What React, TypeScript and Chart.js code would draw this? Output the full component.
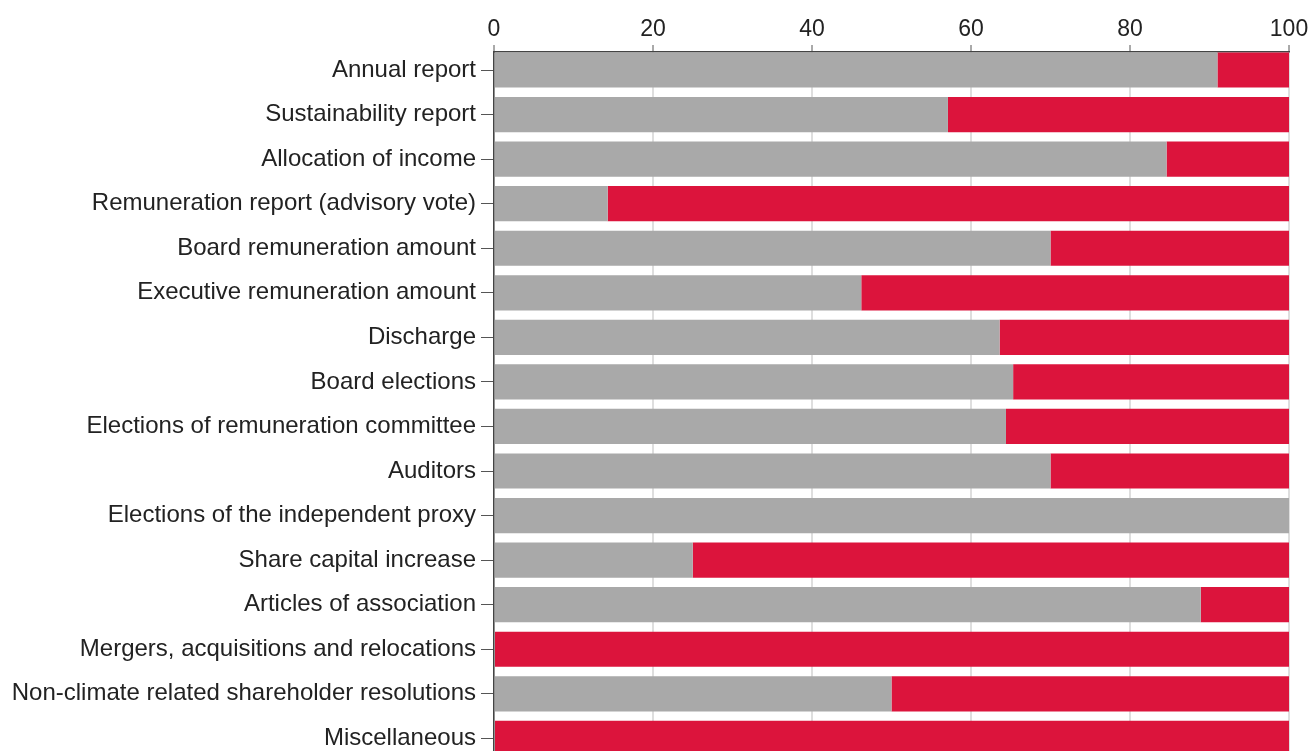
import React, { useEffect, useRef } from "react";
import { Chart, registerables } from "chart.js";

Chart.register(...registerables);

const categories = [
  "Annual report",
  "Sustainability report",
  "Allocation of income",
  "Remuneration report (advisory vote)",
  "Board remuneration amount",
  "Executive remuneration amount",
  "Discharge",
  "Board elections",
  "Elections of remuneration committee",
  "Auditors",
  "Elections of the independent proxy",
  "Share capital increase",
  "Articles of association",
  "Mergers, acquisitions and relocations",
  "Non-climate related shareholder resolutions",
  "Miscellaneous",
];

const forValues = [91, 57.1, 84.6, 14.3, 70, 46.2, 63.6, 65.3, 64.4, 70, 100, 25, 88.9, 0, 50, 0];
const againstValues = [9, 42.9, 15.4, 85.7, 30, 53.8, 36.4, 34.7, 35.6, 30, 0, 75, 11.1, 100, 50, 100];

const xTicks = [0, 20, 40, 60, 80, 100];

const FONT = "'Liberation Sans', Arial, sans-serif";

export default function App() {
  const ref = useRef<HTMLCanvasElement | null>(null);

  useEffect(() => {
    if (!ref.current) return;
    const chart = new Chart(ref.current, {
      type: "bar",
      data: {
        labels: categories,
        datasets: [
          {
            label: "For",
            data: forValues,
            backgroundColor: "#a9a9a9",
            borderWidth: 0,
            barPercentage: 0.79,
            categoryPercentage: 1,
          },
          {
            label: "Against",
            data: againstValues,
            backgroundColor: "#dc143c",
            borderWidth: 0,
            barPercentage: 0.79,
            categoryPercentage: 1,
          },
        ],
      },
      options: {
        indexAxis: "y",
        animation: false,
        responsive: true,
        maintainAspectRatio: false,
        layout: { padding: { left: 0, right: 22, top: 0, bottom: 0 } },
        plugins: {
          legend: { display: false },
          tooltip: { enabled: false },
        },
        scales: {
          x: {
            position: "top",
            stacked: true,
            min: 0,
            max: 100,
            afterBuildTicks: (scale: any) => {
              scale.ticks = xTicks.map((v) => ({ value: v }));
            },
            afterFit: (scale: any) => {
              scale.height = 52;
            },
            ticks: {
              stepSize: 20,
              padding: 2,
              color: "#222",
              font: { family: FONT, size: 23 },
            },
            grid: {
              color: "#dedede",
              lineWidth: 2,
              tickColor: "#555",
              tickLength: 7,
              tickWidth: 1,
            },
            border: { display: true, color: "#444", width: 1.5 },
          },
          y: {
            stacked: true,
            afterBuildTicks: (scale: any) => {
              scale._startValue = -0.404;
              scale._valueRange = 15.89;
            },
            afterFit: (scale: any) => {
              scale.width = 494;
              scale.paddingTop = 0;
              scale.paddingBottom = 0;
            },
            ticks: {
              padding: 5,
              color: "#222",
              font: { family: FONT, size: 24 },
            },
            grid: {
              offset: false,
              drawOnChartArea: false,
              drawTicks: true,
              tickLength: 13,
              tickColor: "#555",
              tickWidth: 1,
            },
            border: { display: true, color: "#444", width: 1.5 },
          },
        },
      },
    });
    return () => chart.destroy();
  }, []);

  return (
    <div style={{ position: "absolute", left: 0, top: 0, width: 1311, height: 760 }}>
      <canvas ref={ref} />
    </div>
  );
}
